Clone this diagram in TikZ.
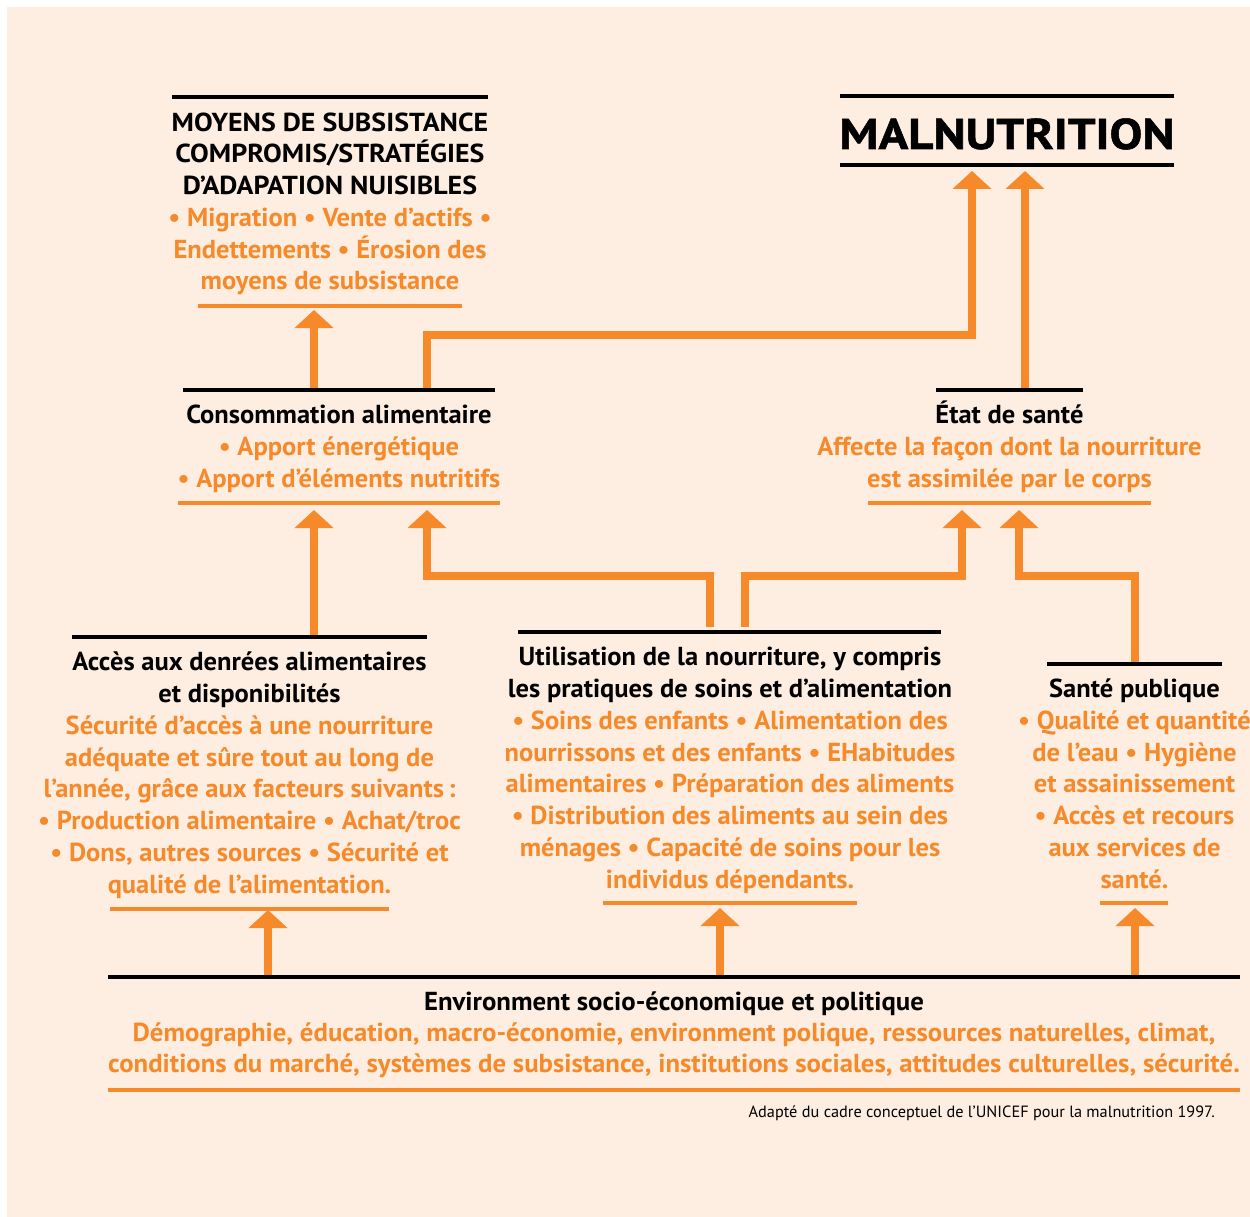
\documentclass[tikz,border=0pt]{standalone}
\usepackage{fontspec}
\usetikzlibrary{arrows.meta}
\setmainfont{PT Sans}
\newfontfamily\sbfont{PT Sans Bold}[FakeStretch=1.02]
\newfontfamily\capsfont{PT Sans Bold}[FakeStretch=1.075]
\newfontfamily\malfont{PT Sans Bold}[FakeStretch=1.14, FakeBold=1.2]
\newfontfamily\condfont{PT Sans Bold}[FakeStretch=1.03]
\newfontfamily\capfont{PT Sans}
\definecolor{peach}{HTML}{FDEEE1}
\definecolor{orng}{HTML}{F6892A}
\newcommand\fl{\rule{0pt}{25pt}}
\begin{document}
\begin{tikzpicture}[x=1pt,y=-1pt,
  krule/.style={line width=3.6pt, black},
  orule/.style={line width=3.6pt, orng},
  conn/.style={line width=8pt, orng, line join=miter, -{Triangle[width=38pt,length=18pt]}},
  ttl/.style={inner sep=0pt, align=center, anchor=north, text=black, font=\sbfont\fontsize{26}{31.8}\selectfont},
  bdy/.style={inner sep=0pt, align=center, anchor=north, text=orng, font=\sbfont\fontsize{26}{31.8}\selectfont},
  envttl/.style={inner sep=0pt, align=center, anchor=north, text=black, font=\condfont\fontsize{26}{31.5}\selectfont},
  envbdy/.style={inner sep=0pt, align=center, anchor=north, text=orng, font=\condfont\fontsize{26}{31.5}\selectfont}
]
\useasboundingbox (0,0) rectangle (1250,1217);
\fill[white] (0,0) rectangle (1250,1217);
\fill[peach] (7,7) rectangle (1250,1217);

% ---------- MOYENS DE SUBSISTANCE ----------
\draw[krule] (172,97) -- (488,97);
\node[ttl, font=\capsfont\fontsize{26}{31.8}\selectfont] (moyT) at (330,131-25) {\fl MOYENS DE SUBSISTANCE\\COMPROMIS/STRATÉGIES\\D’ADAPATION NUISIBLES};
\node[bdy] (moyB) at (330,226-25) {\fl • Migration • Vente d’actifs •\\Endettements • Érosion des\\moyens de subsistance};
\draw[orule] (198,306) -- (462,306);
\coordinate (moyIn) at (314,310);

% ---------- MALNUTRITION ----------
\draw[krule] (840,96) -- (1174,96);
\node[inner sep=0pt, anchor=base, font=\malfont\fontsize{43}{50}\selectfont] (mal) at (1007,149) {MALNUTRITION};
\draw[krule] (840,165) -- (1174,165);
\coordinate (malInA) at (972,171);
\coordinate (malInB) at (1025,171);

% ---------- Consommation alimentaire ----------
\draw[krule] (183,390) -- (495,390);
\node[ttl] (consT) at (339,423-25) {\fl Consommation alimentaire};
\node[bdy] (consB) at (339,455-25) {\fl • Apport énergétique\\• Apport d’éléments nutritifs};
\draw[orule] (178,503) -- (500,503);
\coordinate (consOutA) at (314,388);
\coordinate (consOutB) at (427,388);
\coordinate (consInA) at (314,510);
\coordinate (consInB) at (427,510);

% ---------- État de santé ----------
\draw[krule] (936,390) -- (1083,390);
\node[ttl] (etatT) at (1009.5,423-25) {\fl État de santé};
\node[bdy] (etatB) at (1009.5,455-25) {\fl Affecte la façon dont la nourriture\\est assimilée par le corps};
\draw[orule] (868,503) -- (1151,503);
\coordinate (etatOut) at (1025,388);
\coordinate (etatInA) at (962,510);
\coordinate (etatInB) at (1019,510);

% ---------- Accès ----------
\draw[krule] (72,637) -- (427,637);
\node[ttl] (accT) at (249.5,670-25) {\fl Accès aux denrées alimentaires\\et disponibilités};
\node[bdy] (accB) at (249.5,734-25) {\fl Sécurité d’accès à une nourriture\\adéquate et sûre tout au long de\\l’année, grâce aux facteurs suivants\,:\\• Production alimentaire • Achat/troc\\• Dons, autres sources • Sécurité et\\qualité de l’alimentation.};
\draw[orule] (110,909) -- (389,909);
\coordinate (accOut) at (314,635);
\coordinate (accIn) at (268,910);

% ---------- Utilisation ----------
\draw[krule] (518,632) -- (941,632);
\node[ttl] (utilT) at (730,665-25) {\fl Utilisation de la nourriture, y compris\\les pratiques de soins et d’alimentation};
\node[bdy] (utilB) at (730,729-25) {\fl • Soins des enfants • Alimentation des\\nourrissons et des enfants • EHabitudes\\alimentaires • Préparation des aliments\\• Distribution des aliments au sein des\\ménages • Capacité de soins pour les\\individus dépendants.};
\draw[orule] (603,903) -- (857,903);
\coordinate (utilOutA) at (710,627);
\coordinate (utilOutB) at (745,627);
\coordinate (utilIn) at (720,908);

% ---------- Santé publique ----------
\draw[krule] (1047,664) -- (1222,664);
\node[ttl] (santT) at (1134.5,697-25) {\fl Santé publique};
\node[bdy] (santB) at (1134.5,729-25) {\fl • Qualité et quantité\\de l’eau • Hygiène\\et assainissement\\• Accès et recours\\aux services de\\santé.};
\draw[orule] (1100,903) -- (1168,903);
\coordinate (santOut) at (1135,662);
\coordinate (santIn) at (1135,908);

% ---------- Environment ----------
\draw[krule] (108,977) -- (1240,977);
\node[envttl] (envT) at (674,1010-25) {\fl Environment socio-économique et politique};
\node[envbdy] (envB) at (674,1041-25) {\fl Démographie, éducation, macro-économie, environment polique, ressources naturelles, climat,\\conditions du marché, systèmes de subsistance, institutions sociales, attitudes culturelles, sécurité.};
\draw[orule] (108,1090) -- (1240,1090);
\coordinate (envOutA) at (268,975);
\coordinate (envOutB) at (720,975);
\coordinate (envOutC) at (1135,975);

\node[inner sep=0pt, anchor=base east, font=\capfont\fontsize{16.3}{18}\selectfont] (cap) at (1215,1117) {Adapté du cadre conceptuel de l’UNICEF pour la malnutrition 1997.};

% ---------- connectors ----------
\draw[conn] (consOutA) -- (moyIn);
\draw[conn] (consOutB) |- (972,335) -- (malInA);
\draw[conn] (etatOut) -- (malInB);
\draw[conn] (accOut) -- (consInA);
\draw[conn] (utilOutA) |- (427,576) -- (consInB);
\draw[conn] (utilOutB) |- (962,576) -- (etatInA);
\draw[conn] (santOut) |- (1019,576) -- (etatInB);
\draw[conn] (envOutA) -- (accIn);
\draw[conn] (envOutB) -- (utilIn);
\draw[conn] (envOutC) -- (santIn);
\end{tikzpicture}
\end{document}
